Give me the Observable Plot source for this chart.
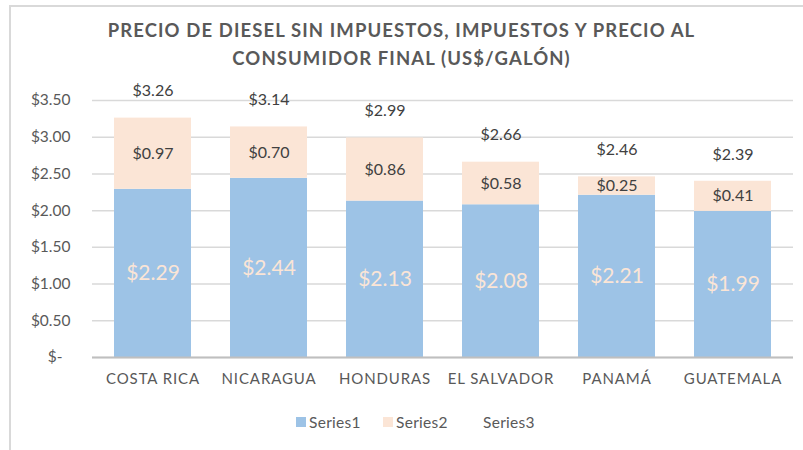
<!DOCTYPE html>
<html><head><meta charset="utf-8">
<script src="https://cdn.jsdelivr.net/npm/d3@7"></script>
<script src="https://cdn.jsdelivr.net/npm/@observablehq/plot@0.6"></script>
<style>
body{margin:0;background:#fff;}
#wrap{position:relative;width:803px;height:450px;overflow:hidden;font-family:Lato,"Open Sans",sans-serif;background:#fff;}
#frame{position:absolute;left:9px;top:5px;width:820px;height:470px;border-top:2px solid #d9d9d9;border-left:2px solid #d9d9d9;}
#title{position:absolute;left:0;width:803px;top:16px;text-align:center;font-weight:bold;font-size:18.5px;color:#595959;line-height:28px;letter-spacing:1.1px;}
#chart{position:absolute;left:0;top:0;}
#chart g[aria-label="x-axis tick label"] text{letter-spacing:0.9px;}
#legend{position:absolute;top:413px;left:0;width:803px;font-size:15.5px;color:#595959;}
#legend span.item{position:absolute;display:flex;align-items:center;gap:3px;white-space:nowrap;letter-spacing:0.3px;}
#legend i{display:inline-block;width:10px;height:10px;}
</style></head>
<body>
<div id="wrap">
  <div id="frame"></div>
  <div id="chart"></div>
  <div id="title">PRECIO DE DIESEL SIN IMPUESTOS, IMPUESTOS Y PRECIO AL<br>CONSUMIDOR FINAL (US$/GALÓN)</div>
  <div id="legend"></div>
</div>
<script>
const categories = ["COSTA RICA","NICARAGUA","HONDURAS","EL SALVADOR","PANAMÁ","GUATEMALA"];
const series1 = [2.29, 2.44, 2.13, 2.08, 2.21, 1.99];
const series2 = [0.97, 0.70, 0.86, 0.58, 0.25, 0.41];
const totals  = [3.26, 3.14, 2.99, 2.66, 2.46, 2.39];
const seriesNames = ["Series1","Series2","Series3"];
const yTicks = [0, 0.5, 1, 1.5, 2, 2.5, 3, 3.5];

const colors = {Series1: "#9DC3E6", Series2: "#FBE5D6"};
const rows = [];
categories.forEach((c, i) => {
  rows.push({cat: c, series: "Series1", value: series1[i], base: 0});
  rows.push({cat: c, series: "Series2", value: series2[i], base: series1[i]});
});
const totalRows = categories.map((c, i) => ({cat: c, total: totals[i]}));
const money = v => "$" + v.toFixed(2);

const chart = Plot.plot({
  width: 803,
  height: 450,
  marginTop: 100,
  marginBottom: 93,
  marginLeft: 92,
  marginRight: 10,
  style: {fontFamily: "Lato, 'Open Sans', sans-serif", background: "transparent"},
  x: {domain: categories, paddingInner: 0.34, paddingOuter: 0.17, label: null},
  y: {domain: [0, 3.5], label: null},
  marks: [
    Plot.gridY(yTicks, {stroke: "#d9d9d9", strokeOpacity: 1, strokeWidth: 1.5}),
    Plot.axisY(yTicks, {tickSize: 0, tickPadding: 22, fontSize: 15.5, fill: "#595959",
      tickFormat: d => d === 0 ? "$-\u00a0\u00a0" : money(d), label: null}),
    Plot.axisX({tickSize: 0, tickPadding: 16, fontSize: 15, fill: "#595959", label: null}),
    Plot.barY(rows, {x: "cat", y1: "base", y2: d => d.base + d.value, fill: d => colors[d.series]}),
    Plot.ruleY([0], {stroke: "#bfbfbf", strokeWidth: 2}),
    Plot.text(rows.filter(d => d.series === "Series1"), {x: "cat", y: d => d.value / 2, text: d => money(d.value),
      fill: "#FBE5D6", fontSize: 21}),
    Plot.text(rows.filter(d => d.series === "Series2"), {x: "cat", y: d => d.base + d.value / 2, text: d => money(d.value),
      fill: "#404040", fontSize: 16}),
    Plot.text(totalRows, {x: "cat", y: "total", text: d => money(d.total), dy: -27, fill: "#404040", fontSize: 16})
  ]
});
document.getElementById("chart").appendChild(chart);

const legend = document.getElementById("legend");
const lx = [296, 383, 470];
seriesNames.forEach((s, i) => {
  const it = document.createElement("span");
  it.className = "item";
  it.style.left = lx[i] + "px";
  const sw = document.createElement("i");
  sw.style.background = colors[s] || "transparent";
  it.appendChild(sw);
  const t = document.createElement("span");
  t.textContent = s;
  it.appendChild(t);
  legend.appendChild(it);
});
</script>
</body></html>
